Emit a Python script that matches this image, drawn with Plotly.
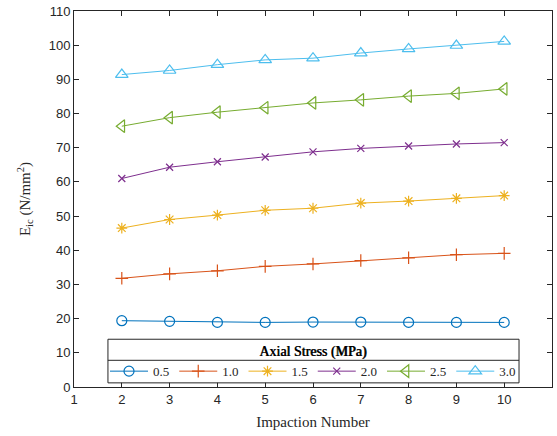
import plotly.graph_objects as go

impaction = [2, 3, 4, 5, 6, 7, 8, 9, 10]
stress_labels = ["0.5", "1.0", "1.5", "2.0", "2.5", "3.0"]
s05 = [19.4, 19.2, 18.9, 18.9, 19.0, 19.0, 18.9, 18.9, 18.9]
s10 = [31.8, 33.1, 34.0, 35.3, 36.0, 37.0, 37.8, 38.7, 39.1]
s15 = [46.5, 49.0, 50.3, 51.7, 52.3, 53.8, 54.4, 55.2, 56.0]
s20 = [61.0, 64.3, 65.9, 67.3, 68.8, 69.8, 70.5, 71.1, 71.5]
s25 = [76.3, 78.8, 80.4, 81.7, 83.1, 84.0, 85.1, 85.9, 87.2]
s30 = [91.4, 92.6, 94.3, 95.7, 96.2, 97.7, 98.9, 99.9, 101.1]
series = [s05, s10, s15, s20, s25, s30]

colors = ["#0072BD", "#D95319", "#EDB120", "#7E2F8E", "#77AC30", "#4DBEEE"]
symbols = ["circle-open", "cross-thin-open", "asterisk-open", "x-thin-open",
           "triangle-left-open", "triangle-up-open"]
sizes = [10, 9, 9, 7, 11, 11]

fig = go.Figure()
for lab, ys, c, s, sz in zip(stress_labels, series, colors, symbols, sizes):
    fig.add_trace(go.Scatter(
        x=impaction, y=ys, name=lab, mode="lines+markers",
        line=dict(color=c, width=1),
        marker=dict(symbol=s, size=sz, color=c, line=dict(color=c, width=1.2)),
    ))

serif = "Liberation Serif"
sans = "Liberation Sans"
axis_common = dict(showline=True, linecolor="#262626", linewidth=1, mirror="ticks",
                   ticks="inside", ticklen=5, tickcolor="#262626", showgrid=False,
                   zeroline=False, tickfont=dict(family=sans, size=13, color="#262626"))

fig.update_layout(
    width=557, height=436,
    margin=dict(l=74, r=4, t=9, b=49),
    paper_bgcolor="white", plot_bgcolor="white",
    font=dict(family=serif),
    xaxis=dict(range=[1, 11], tickvals=list(range(1, 12)),
               title=dict(text="Impaction Number", font=dict(family=serif, size=15, color="#262626"),
                          standoff=10),
               **axis_common),
    yaxis=dict(range=[0, 110], tickvals=list(range(0, 111, 10)),
               title=dict(text="E<sub>ic</sub> (N/mm<sup>2</sup>)",
                          font=dict(family=serif, size=15, color="#262626"), standoff=14),
               **axis_common),
    legend=dict(orientation="h", x=0.5, xanchor="center", y=0.0, yanchor="bottom",
                bgcolor="rgba(0,0,0,0)", borderwidth=0,
                font=dict(family=serif, size=13, color="#262626"),
                title=dict(text="Axial Stress (MPa)", side="top center",
                           font=dict(family=serif, size=14, color="#000000",
                                     shadow="0.6px 0px 0px #000000")),
                itemwidth=38, tracegroupgap=0, traceorder="normal"),
    showlegend=True,
)

# legend box with title separator
fig.add_shape(type="rect", xref="paper", yref="paper",
              x0=0.071, x1=0.931, y0=0.011, y1=0.127,
              line=dict(color="#262626", width=1), fillcolor="white", layer="above")
fig.add_shape(type="line", xref="paper", yref="paper",
              x0=0.071, x1=0.931, y0=0.071, y1=0.071,
              line=dict(color="#262626", width=1), layer="above")

fig.write_html("out.html")
